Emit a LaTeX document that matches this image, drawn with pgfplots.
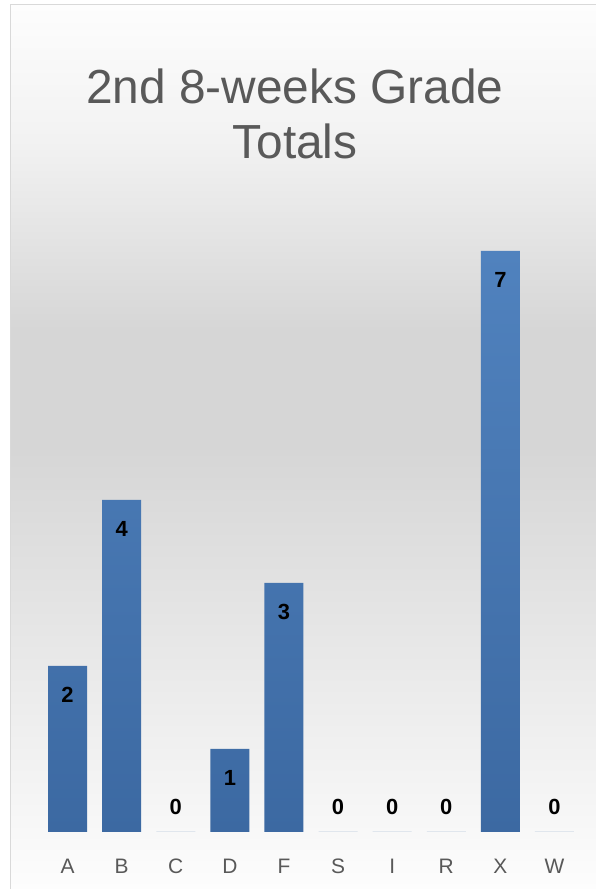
\documentclass[border=0pt]{standalone}
\usepackage{pgfplots}
\pgfplotsset{compat=1.18}
\usepackage{fontspec}
\setmainfont{Liberation Sans}
\definecolor{bartop}{RGB}{80,130,190}
\definecolor{barbot}{RGB}{60,105,162}
\definecolor{labgray}{RGB}{89,89,89}
\definecolor{frame}{RGB}{217,217,217}
\definecolor{bgwhite}{RGB}{253,253,253}
\definecolor{bglight}{RGB}{242,242,242}
\definecolor{bgdark}{RGB}{214,214,214}
\begin{document}
\begin{tikzpicture}[x=1bp,y=1bp]
	\useasboundingbox (0,0) rectangle (596,889);
	\fill[white] (0,0) rectangle (596,889);
	% background gradient (y measured from bottom)
	\shade[top color=bgwhite, bottom color=bglight] (10,749) rectangle (596,884.5);
	\shade[top color=bglight, bottom color=bgdark] (10,559) rectangle (596,749.2);
	\fill[bgdark] (10,439) rectangle (596,559.2);
	\shade[top color=bgdark, bottom color=bgwhite] (10,0) rectangle (596,439.2);
	\draw[frame, line width=1.2bp] (10.5,0) -- (10.5,884.5) -- (596,884.5);
	\node[text=labgray, align=center, font=\fontsize{48}{55}\selectfont] at (295,775) {2nd 8-weeks Grade\\Totals};
	\begin{axis}[
			at={(40.5bp,57bp)}, anchor=south west,
			scale only axis,
			width=541bp, height=581bp,
			xmin=-0.5, xmax=9.5,
			ymin=0, ymax=7,
			clip=false,
			axis line style={draw=none},
			tick style={draw=none},
			ytick=\empty,
			xtick=data,
			xticklabels={A,B,C,D,F,S,I,R,X,W},
			xticklabel style={text=labgray, anchor=center, yshift=-30bp, font=\fontsize{21}{21}\selectfont},
			ybar, bar width=39bp,
			visualization depends on={y \as \rawy},
			nodes near coords,
			every node near coord/.append style={anchor=center, text=black,
				/pgf/number format/assume math mode=true,
				font=\bfseries\fontsize{22}{22}\selectfont,
				yshift={ifthenelse(\rawy==0,25,-29)}},
		]
		\addplot[draw=none, top color=bartop, bottom color=barbot]
		coordinates {(0,2) (1,4) (2,0) (3,1) (4,3) (5,0) (6,0) (7,0) (8,7) (9,0)};
	\end{axis}
\end{tikzpicture}
\end{document}
